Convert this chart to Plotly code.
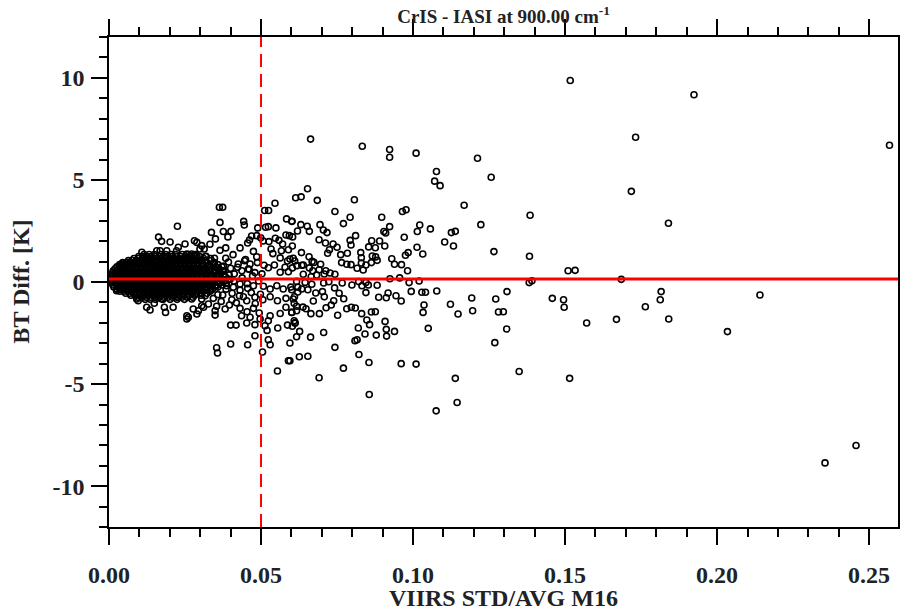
import plotly.graph_objects as go

# ---------------- data ----------------
# dense core of the cloud: one list of x values per BT-difference level
core_y_levels = [1.35, 1.25, 1.15, 1.05, 0.95, 0.85, 0.75, 0.65, 0.55, 0.45, 0.35, 0.25, 0.15, 0.05,
                 -0.05, -0.15, -0.25, -0.35, -0.45, -0.55, -0.65, -0.75, -0.85]
core_x_rows = [
    [0.0115, 0.0132, 0.0149, 0.0171, 0.0186, 0.0204, 0.0219, 0.0241, 0.0262, 0.0283],
    [0.0098, 0.0112, 0.0124, 0.0139, 0.0153, 0.0166, 0.0180, 0.0193, 0.0208, 0.0222, 0.0236, 0.0251,
     0.0266, 0.0281, 0.0298, 0.0318],
    [0.0082, 0.0097, 0.0111, 0.0126, 0.0140, 0.0157, 0.0170, 0.0184, 0.0199, 0.0213, 0.0229, 0.0244,
     0.0258, 0.0273, 0.0290, 0.0311, 0.0334],
    [0.0064, 0.0077, 0.0090, 0.0104, 0.0118, 0.0132, 0.0146, 0.0159, 0.0173, 0.0187, 0.0201, 0.0214,
     0.0228, 0.0242, 0.0256, 0.0270, 0.0284, 0.0299, 0.0316, 0.0336],
    [0.0045, 0.0058, 0.0071, 0.0085, 0.0098, 0.0112, 0.0125, 0.0139, 0.0152, 0.0166, 0.0179, 0.0193,
     0.0206, 0.0220, 0.0234, 0.0247, 0.0261, 0.0276, 0.0290, 0.0305, 0.0322, 0.0345],
    [0.0035, 0.0047, 0.0060, 0.0073, 0.0086, 0.0099, 0.0112, 0.0126, 0.0139, 0.0153, 0.0166, 0.0180,
     0.0193, 0.0207, 0.0221, 0.0235, 0.0249, 0.0263, 0.0277, 0.0292, 0.0309, 0.0330, 0.0358],
    [0.0026, 0.0038, 0.0051, 0.0064, 0.0077, 0.0090, 0.0103, 0.0117, 0.0130, 0.0144, 0.0157, 0.0170,
     0.0184, 0.0197, 0.0211, 0.0224, 0.0238, 0.0251, 0.0265, 0.0279, 0.0293, 0.0308, 0.0326, 0.0352, 0.0371],
    [0.0020, 0.0032, 0.0045, 0.0058, 0.0071, 0.0084, 0.0097, 0.0110, 0.0124, 0.0137, 0.0151, 0.0164,
     0.0178, 0.0191, 0.0205, 0.0218, 0.0232, 0.0245, 0.0259, 0.0273, 0.0287, 0.0302, 0.0318, 0.0338, 0.0362],
    [0.0014, 0.0027, 0.0040, 0.0053, 0.0066, 0.0079, 0.0092, 0.0105, 0.0118, 0.0131, 0.0145, 0.0158,
     0.0172, 0.0185, 0.0199, 0.0212, 0.0226, 0.0240, 0.0253, 0.0267, 0.0281, 0.0296, 0.0311, 0.0329,
     0.0348, 0.0373],
    [0.0012, 0.0024, 0.0037, 0.0050, 0.0063, 0.0076, 0.0089, 0.0102, 0.0115, 0.0128, 0.0142, 0.0155,
     0.0169, 0.0182, 0.0196, 0.0209, 0.0223, 0.0237, 0.0251, 0.0265, 0.0279, 0.0294, 0.0309, 0.0325,
     0.0344, 0.0366],
    [0.0010, 0.0022, 0.0035, 0.0048, 0.0061, 0.0074, 0.0087, 0.0100, 0.0113, 0.0126, 0.0139, 0.0153,
     0.0166, 0.0180, 0.0193, 0.0207, 0.0220, 0.0234, 0.0248, 0.0262, 0.0276, 0.0290, 0.0305, 0.0320,
     0.0337, 0.0356, 0.0378, 0.0395],
    [0.0009, 0.0021, 0.0034, 0.0047, 0.0060, 0.0073, 0.0086, 0.0099, 0.0112, 0.0125, 0.0138, 0.0152,
     0.0165, 0.0179, 0.0192, 0.0206, 0.0219, 0.0233, 0.0247, 0.0261, 0.0275, 0.0290, 0.0305, 0.0321,
     0.0339, 0.0360, 0.0383],
    [0.0008, 0.0020, 0.0033, 0.0046, 0.0059, 0.0072, 0.0085, 0.0098, 0.0111, 0.0124, 0.0137, 0.0151,
     0.0164, 0.0178, 0.0191, 0.0205, 0.0218, 0.0232, 0.0246, 0.0260, 0.0274, 0.0289, 0.0304, 0.0319,
     0.0336, 0.0354, 0.0372, 0.0392],
    [0.0009, 0.0021, 0.0034, 0.0047, 0.0060, 0.0073, 0.0086, 0.0099, 0.0112, 0.0125, 0.0138, 0.0152,
     0.0165, 0.0179, 0.0192, 0.0206, 0.0219, 0.0233, 0.0247, 0.0261, 0.0275, 0.0290, 0.0305, 0.0321,
     0.0339, 0.0360, 0.0381],
    [0.0010, 0.0023, 0.0036, 0.0049, 0.0062, 0.0075, 0.0088, 0.0101, 0.0114, 0.0127, 0.0141, 0.0154,
     0.0168, 0.0181, 0.0195, 0.0208, 0.0222, 0.0236, 0.0250, 0.0264, 0.0278, 0.0293, 0.0308, 0.0324,
     0.0341, 0.0362, 0.0385],
    [0.0013, 0.0026, 0.0039, 0.0052, 0.0065, 0.0078, 0.0091, 0.0104, 0.0117, 0.0130, 0.0144, 0.0157,
     0.0171, 0.0184, 0.0198, 0.0212, 0.0225, 0.0239, 0.0253, 0.0267, 0.0281, 0.0296, 0.0312, 0.0330,
     0.0350, 0.0372],
    [0.0016, 0.0029, 0.0042, 0.0055, 0.0068, 0.0081, 0.0094, 0.0107, 0.0120, 0.0133, 0.0147, 0.0160,
     0.0174, 0.0187, 0.0201, 0.0215, 0.0228, 0.0242, 0.0256, 0.0270, 0.0285, 0.0300, 0.0316, 0.0333, 0.0358],
    [0.0026, 0.0039, 0.0052, 0.0065, 0.0078, 0.0091, 0.0104, 0.0117, 0.0130, 0.0144, 0.0157, 0.0171,
     0.0184, 0.0198, 0.0212, 0.0225, 0.0239, 0.0253, 0.0267, 0.0282, 0.0297, 0.0314, 0.0340],
    [0.0036, 0.0049, 0.0062, 0.0075, 0.0088, 0.0101, 0.0114, 0.0127, 0.0140, 0.0154, 0.0167, 0.0181,
     0.0194, 0.0208, 0.0222, 0.0236, 0.0250, 0.0264, 0.0279, 0.0294, 0.0310, 0.0331],
    [0.0055, 0.0068, 0.0081, 0.0094, 0.0107, 0.0121, 0.0134, 0.0148, 0.0161, 0.0175, 0.0188, 0.0202,
     0.0216, 0.0230, 0.0244, 0.0258, 0.0273, 0.0288, 0.0305, 0.0322],
    [0.0072, 0.0086, 0.0100, 0.0114, 0.0128, 0.0142, 0.0157, 0.0171, 0.0186, 0.0200, 0.0215, 0.0230,
     0.0246, 0.0263, 0.0281, 0.0302],
    [0.0095, 0.0109, 0.0123, 0.0137, 0.0151, 0.0165, 0.0180, 0.0194, 0.0209, 0.0224, 0.0240, 0.0257, 0.0276],
    [0.0119, 0.0136, 0.0153, 0.0178, 0.0201, 0.0224, 0.0248],
]

# scattered points left of / around the 0.05 threshold
near_x = [0.0225, 0.0163, 0.0201, 0.0173, 0.0250, 0.0281, 0.0289, 0.0305, 0.0299, 0.0108, 0.0157, 0.0168,
          0.0190, 0.0222, 0.0228, 0.0256, 0.0272, 0.0289, 0.0091, 0.0064, 0.0042,
          0.0025, 0.0091, 0.0096, 0.0124, 0.0135, 0.0149, 0.0182, 0.0186, 0.0211, 0.0256, 0.0256, 0.0261,
          0.0277, 0.0289, 0.0294, 0.0311, 0.0228, 0.0272, 0.0305, 0.0173, 0.0151,
          0.0546, 0.0512, 0.0525, 0.0363, 0.0374, 0.0584, 0.0602, 0.0443, 0.0445, 0.0365, 0.0489, 0.0515,
          0.0524, 0.0549, 0.0337, 0.0376, 0.0401, 0.0582, 0.0593, 0.0350, 0.0391, 0.0469, 0.0462, 0.0499,
          0.0507, 0.0526, 0.0547, 0.0559, 0.0571, 0.0590, 0.0332, 0.0313, 0.0365, 0.0384, 0.0431, 0.0456,
          0.0475, 0.0533, 0.0539, 0.0567, 0.0563, 0.0587, 0.0606, 0.0319, 0.0347, 0.0384, 0.0408, 0.0425,
          0.0446, 0.0464, 0.0486, 0.0510, 0.0524, 0.0544, 0.0579, 0.0603, 0.0618, 0.0305, 0.0330, 0.0356,
          0.0376, 0.0400, 0.0437, 0.0458, 0.0480, 0.0563, 0.0590, 0.0486,
          0.0310, 0.0338, 0.0365, 0.0387, 0.0409, 0.0431, 0.0456, 0.0475, 0.0508, 0.0530, 0.0552, 0.0573,
          0.0598, 0.0621, 0.0316, 0.0343, 0.0374, 0.0404, 0.0429, 0.0453, 0.0480, 0.0506, 0.0530, 0.0554,
          0.0582, 0.0610, 0.0305, 0.0327, 0.0354, 0.0382, 0.0396, 0.0349, 0.0349, 0.0431, 0.0454, 0.0475,
          0.0436, 0.0464, 0.0494, 0.0530, 0.0563, 0.0582, 0.0601, 0.0617, 0.0400, 0.0418, 0.0453, 0.0480,
          0.0513, 0.0555, 0.0587, 0.0524, 0.0497, 0.0480, 0.0524, 0.0530, 0.0400, 0.0456, 0.0595, 0.0590,
          0.0354, 0.0357, 0.0505, 0.0554, 0.0520, 0.0612,
          0.0322, 0.0335, 0.0346, 0.0358, 0.0362, 0.0369, 0.0378, 0.0385, 0.0393, 0.0398, 0.0405, 0.0412,
          0.0419, 0.0423, 0.0431, 0.0438, 0.0442, 0.0449, 0.0455, 0.0461, 0.0468, 0.0472, 0.0481, 0.0488,
          0.0492, 0.0498, 0.0503, 0.0411, 0.0372, 0.0352]
near_y = [2.73, 2.20, 1.96, 1.99, 1.86, 2.02, 1.94, 1.78, 1.62, 1.46, 1.53, 1.53,
          1.53, 1.53, 1.70, 1.37, 1.37, 1.29, 1.04, 0.97, 0.88,
          -0.43, -0.83, -0.92, -1.24, -1.37, -1.04, -1.24, -1.49, -1.24, -1.65, -1.81, -1.73,
          -1.32, -1.57, -1.41, -1.24, -0.75, -0.83, -0.83, -0.83, -0.67,
          3.86, 3.50, 3.50, 3.66, 3.66, 3.09, 2.97, 2.97, 2.79, 2.92, 2.65, 2.68,
          2.71, 2.65, 2.43, 2.47, 2.48, 2.30, 2.27, 2.11, 2.21, 2.25, 2.06, 2.17,
          2.01, 1.98, 2.14, 2.04, 1.86, 1.58, 1.85, 1.62, 1.55, 1.67, 1.67, 1.91,
          1.50, 1.62, 1.39, 1.53, 1.18, 1.03, 1.16, 1.26, 1.16, 1.16, 1.34, 0.88,
          1.04, 0.88, 1.24, 0.82, 0.70, 0.83, 0.72, 0.69, 0.80, 0.80, 0.70, 0.70,
          0.78, 0.67, 0.55, 0.64, 0.46, 0.48, 0.50, 2.27,
          -0.10, -0.18, -0.05, -0.18, -0.26, -0.10, -0.31, -0.18, -0.21, -0.34, -0.18, -0.34,
          -0.25, -0.26, -0.67, -0.80, -0.64, -0.87, -0.67, -0.92, -0.75, -0.87, -0.72, -0.92,
          -0.80, -0.72, -1.16, -1.08, -1.19, -1.32, -1.13, -1.41, -1.62, -1.29, -1.46, -1.29,
          -1.65, -1.73, -1.52, -1.65, -1.54, -1.24, -1.49, -1.19, -2.11, -2.11, -2.01, -2.09,
          -2.14, -2.25, -2.11, -1.90, -1.81, -2.63, -2.83, -3.07, -3.04, -3.07, -2.99, -3.86,
          -3.22, -3.48, -3.43, -4.36, -2.37, -1.98,
          0.42, -0.42, 0.95, -0.62, 0.30, -0.95, 0.55, -0.35, 0.98, 0.12, -0.55, 0.40,
          -1.02, 0.72, -0.40, 0.20, -0.72, 1.10, -0.08, 0.62, -0.52, 0.30, -1.05, 0.95,
          0.05, -0.60, 0.40, 0.05, 0.12, -0.20]

# points between about 0.06 and 0.11
mid_x = [0.0663, 0.0833, 0.0923, 0.0923, 0.1010, 0.1077, 0.1071, 0.0653, 0.0614, 0.0632, 0.0685, 0.0807,
         0.0965, 0.0977, 0.0743, 0.0793, 0.0897, 0.0601, 0.0771, 0.0631, 0.0652, 0.0694, 0.0923, 0.1022,
         0.1057, 0.0620, 0.0659, 0.0705, 0.0717, 0.0904, 0.0910, 0.1014, 0.0604, 0.0811, 0.0971, 0.0691,
         0.0793, 0.0864, 0.0890, 0.0712, 0.0737, 0.0750, 0.0796, 0.0854, 0.0876, 0.0907, 0.1013, 0.0603,
         0.0725, 0.0719, 0.0633, 0.0762, 0.0784, 0.0828, 0.0830, 0.0866, 0.0877, 0.0882, 0.0975, 0.0984,
         0.1032, 0.0658, 0.0668, 0.0595, 0.0611, 0.0634, 0.0639, 0.0674, 0.0696, 0.0765, 0.0782, 0.0796,
         0.0830, 0.0845, 0.0863, 0.0930, 0.0939, 0.0962, 0.0816, 0.0836, 0.0982, 0.0659, 0.0670, 0.0691,
         0.0713, 0.0708, 0.0639, 0.0727, 0.0743, 0.0665, 0.0683, 0.0924, 0.0956,
         0.0617, 0.0645, 0.0667, 0.0706, 0.0723, 0.0767, 0.0799, 0.0821, 0.0832, 0.0845, 0.0853, 0.0882,
         0.0987, 0.1020, 0.0601, 0.0621, 0.0634, 0.0654, 0.0680, 0.0702, 0.0742, 0.0757, 0.0772, 0.0845,
         0.0887, 0.0918, 0.0912, 0.0944, 0.0961, 0.0994, 0.1029, 0.1041, 0.1078, 0.0606, 0.0609, 0.0638,
         0.0648, 0.0672, 0.0708, 0.0714, 0.0731, 0.0739, 0.0601, 0.0617, 0.0664, 0.0692, 0.0752, 0.0782,
         0.0797, 0.0810, 0.0831, 0.0863, 0.0876, 0.0848, 0.0857, 0.0908, 0.1033, 0.1036, 0.0609, 0.0612,
         0.0603, 0.0627, 0.0663, 0.0617, 0.0706, 0.0820, 0.0842, 0.0879, 0.0912, 0.0913, 0.0939, 0.1050,
         0.0809, 0.0816, 0.0743, 0.0822, 0.0626, 0.0654, 0.0595, 0.0855, 0.0961, 0.1010, 0.0771, 0.0691,
         0.0856, 0.1076]
mid_y = [7.00, 6.65, 6.49, 6.11, 6.31, 5.41, 4.94, 4.57, 4.13, 4.17, 4.00, 4.03,
         3.45, 3.54, 3.45, 3.17, 3.17, 2.97, 2.86, 2.81, 2.73, 2.81, 2.71, 2.79,
         2.60, 2.50, 2.48, 2.55, 2.42, 2.47, 2.40, 2.47, 2.21, 2.27, 2.19, 2.07,
         2.04, 2.02, 2.01, 1.91, 1.86, 1.70, 1.81, 1.72, 1.68, 1.76, 1.70, 1.76,
         1.58, 1.41, 1.44, 1.34, 1.41, 1.44, 1.19, 1.27, 1.23, 1.06, 1.31, 1.44,
         1.37, 1.24, 1.01, 1.13, 1.03, 0.82, 0.83, 0.96, 0.87, 0.95, 0.87, 0.85,
         0.93, 0.83, 0.95, 1.14, 0.87, 0.85, 0.67, 0.59, 0.55, 0.69, 0.55, 0.60,
         0.55, 0.39, 0.38, 0.44, 0.38, 0.26, 0.34, 0.16, 0.20,
         0.03, -0.02, -0.11, -0.05, 0.01, -0.05, -0.15, 0.02, -0.18, -0.02, -0.15, -0.16,
         -0.03, 0.05, -0.38, -0.49, -0.34, -0.38, -0.54, -0.47, -0.29, -0.55, -0.82, -0.52,
         -0.75, -0.54, -0.77, -0.67, -0.93, -0.46, -0.50, -0.50, -0.44, -0.83, -1.04, -1.23,
         -1.31, -0.93, -0.72, -1.26, -1.13, -0.92, -1.49, -1.41, -1.55, -1.55, -1.63, -1.31,
         -1.24, -1.27, -1.55, -1.47, -1.46, -1.86, -2.09, -1.93, -1.49, -1.13, -1.90, -2.02,
         -2.17, -2.42, -2.70, -2.68, -2.47, -2.25, -2.55, -2.60, -2.32, -2.65, -2.42, -2.27,
         -2.88, -2.83, -3.20, -3.55, -3.66, -3.64, -3.86, -3.94, -4.00, -4.02, -4.22, -4.69,
         -5.51, -6.31]

# sparse points beyond about 0.11
far_x = [0.1517, 0.1924, 0.2567, 0.1732, 0.1212, 0.1257, 0.1718, 0.1089, 0.1168, 0.1385, 0.1840, 0.1223,
         0.1126, 0.1139, 0.1104, 0.1133, 0.1266, 0.1383, 0.1510, 0.1533, 0.1685, 0.1382, 0.1391, 0.1309,
         0.1193, 0.1272, 0.1123, 0.1816, 0.1813, 0.2141, 0.1458, 0.1495, 0.1497, 0.1148, 0.1196, 0.1281,
         0.1297, 0.1764, 0.1841, 0.1669, 0.1571, 0.1308, 0.2034, 0.1269, 0.1349, 0.1139, 0.1515, 0.1145,
         0.2355, 0.2457]
far_y = [9.87, 9.17, 6.70, 7.09, 6.06, 5.13, 4.44, 4.72, 3.76, 3.27, 2.88, 2.81,
         2.42, 2.48, 1.96, 1.76, 1.49, 1.26, 0.55, 0.57, 0.13, -0.03, 0.06, -0.47,
         -0.78, -0.83, -1.09, -0.47, -0.87, -0.64, -0.80, -0.87, -1.24, -1.57, -1.41, -1.47,
         -1.46, -1.21, -1.81, -1.83, -2.01, -2.30, -2.43, -2.97, -4.38, -4.72, -4.72, -5.90,
         -8.86, -8.01]

threshold_x = 0.05      # red dashed line
mean_bias = 0.15        # red solid line
x_range = [0.0, 0.2595]
y_range = [-12, 12]
x_tick_vals = [0.0, 0.05, 0.10, 0.15, 0.20, 0.25]
x_tick_text = ["0.00", "0.05", "0.10", "0.15", "0.20", "0.25"]
y_tick_vals = [-10, -5, 0, 5, 10]
y_tick_text = ["-10", "-5", "0", "5", "10"]

# ---------------- assemble ----------------
xs, ys = [], []
for lvl, row in zip(core_y_levels, core_x_rows):
    xs.extend(row)
    ys.extend([lvl] * len(row))
xs += near_x + mid_x + far_x
ys += near_y + mid_y + far_y

FONT = "Liberation Serif, Times New Roman, serif"

fig = go.Figure()
fig.add_trace(go.Scatter(
    x=xs, y=ys, mode="markers",
    marker=dict(symbol="circle-open", size=6, color="black", line=dict(width=1.6, color="black")),
    hoverinfo="skip", showlegend=False,
))

fig.add_shape(type="line", xref="paper", yref="y", x0=0, x1=1, y0=mean_bias, y1=mean_bias,
              line=dict(color="#ff0000", width=3), layer="above")
fig.add_shape(type="line", xref="x", yref="paper", x0=threshold_x, x1=threshold_x, y0=0, y1=1,
              line=dict(color="#ff0000", width=2, dash="13px,7px"), layer="above")

axis_common = dict(
    showgrid=False, zeroline=False, showline=True, linecolor="black", linewidth=1.5,
    mirror="allticks", ticks="outside", ticklen=16, tickwidth=1.5, tickcolor="black",
    automargin=False,
    tickfont=dict(family=FONT, size=24, color="#222", weight="bold"),
)

fig.update_xaxes(range=x_range, tickmode="array", tickvals=x_tick_vals, ticktext=x_tick_text,
                 ticklabelstandoff=9,
                 minor=dict(dtick=0.01, tick0=0, ticks="outside", ticklen=8, tickwidth=1.5,
                            tickcolor="black", showgrid=False),
                 **axis_common)
fig.update_yaxes(range=y_range, tickmode="array", tickvals=y_tick_vals, ticktext=y_tick_text,
                 ticklabelstandoff=2,
                 minor=dict(dtick=1, tick0=0, ticks="outside", ticklen=8, tickwidth=1.5,
                            tickcolor="black", showgrid=False),
                 **axis_common)

fig.update_layout(
    width=900, height=611,
    margin=dict(l=109, r=2, t=37, b=84, autoexpand=False),
    paper_bgcolor="white", plot_bgcolor="white",
    title=dict(text="CrIS - IASI at 900.00 cm<sup>-1</sup>", x=0.5, xref="paper",
               y=1 - 16 / 611, yref="container", yanchor="middle", xanchor="center",
               font=dict(family=FONT, size=19, color="#222", weight="bold")),
    annotations=[
        dict(text="VIIRS STD/AVG M16", xref="paper", yref="paper", x=0.5, y=-0.145,
             xanchor="center", yanchor="middle", showarrow=False,
             font=dict(family=FONT, size=24, color="#222", weight="bold")),
        dict(text="BT Diff. [K]", xref="paper", yref="paper", x=-0.112, y=0.5, textangle=-90,
             xanchor="center", yanchor="middle", showarrow=False,
             font=dict(family=FONT, size=24, color="#222", weight="bold")),
    ],
)

fig.write_html("out.html")
